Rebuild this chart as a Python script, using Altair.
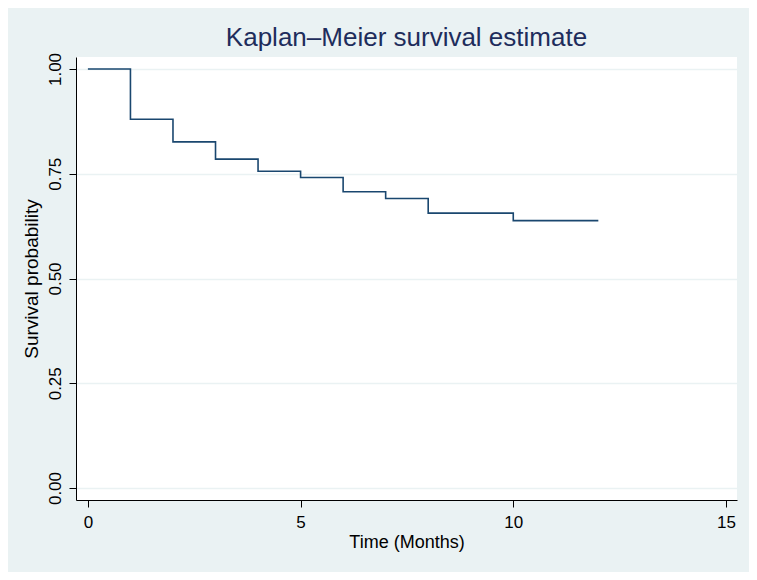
import altair as alt
import pandas as pd

# Kaplan-Meier step estimates
times = [0, 1, 2, 3, 4, 5, 6, 7, 8, 10, 12]
survival = [1.0, 0.880, 0.826, 0.785, 0.756, 0.741, 0.707, 0.691, 0.656, 0.638, 0.638]
x_ticks = [0, 5, 10, 15]
y_ticks = [0, 0.25, 0.5, 0.75, 1.0]

df = pd.DataFrame({"time": times, "survival": survival})

FONT = "Liberation Sans"

chart = alt.Chart(df).mark_line(
    interpolate="step-after", color="#1A476F", strokeWidth=1.6
).encode(
    x=alt.X(
        "time:Q",
        scale=alt.Scale(domain=[-0.28, 15.26], nice=False, zero=False),
        axis=alt.Axis(
            values=x_ticks, title="Time (Months)", grid=False,
            labelFontSize=17, titleFontSize=18, titleFontWeight="normal",
            labelColor="#000000", titleColor="#000000",
            labelFont=FONT, titleFont=FONT, tickSize=7, tickColor="#000000",
            domainColor="#000000", labelPadding=7, titlePadding=3,
            labelFlush=False,
        ),
    ),
    y=alt.Y(
        "survival:Q",
        scale=alt.Scale(domain=[-0.0286, 1.0286], nice=False, zero=False),
        axis=alt.Axis(
            values=y_ticks, format=".2f", title="Survival probability",
            grid=True, gridColor="#EAF2F3", gridWidth=1.5,
            labelAngle=270, labelAlign="center", labelBaseline="bottom",
            labelFontSize=17, titleFontSize=19, titleFontWeight="normal",
            labelColor="#000000", titleColor="#000000",
            labelFont=FONT, titleFont=FONT, tickSize=7, tickColor="#000000",
            domainColor="#000000", labelPadding=5, titlePadding=5,
            labelFlush=False,
        ),
    ),
).properties(
    width=661,
    height=443,
    background="#EAF2F3",
    padding={"left": 68, "top": 49, "right": 12, "bottom": 72},
    autosize=alt.AutoSizeParams(type="none"),
    title=alt.TitleParams(
        "Kaplan\u2013Meier survival estimate", fontSize=26, font=FONT,
        fontWeight="normal", color="#1E2D5C", anchor="middle", offset=1,
    ),
).configure_view(fill="white", stroke=None)

chart.save("out.html", embed_options={"renderer": "svg", "actions": False})
